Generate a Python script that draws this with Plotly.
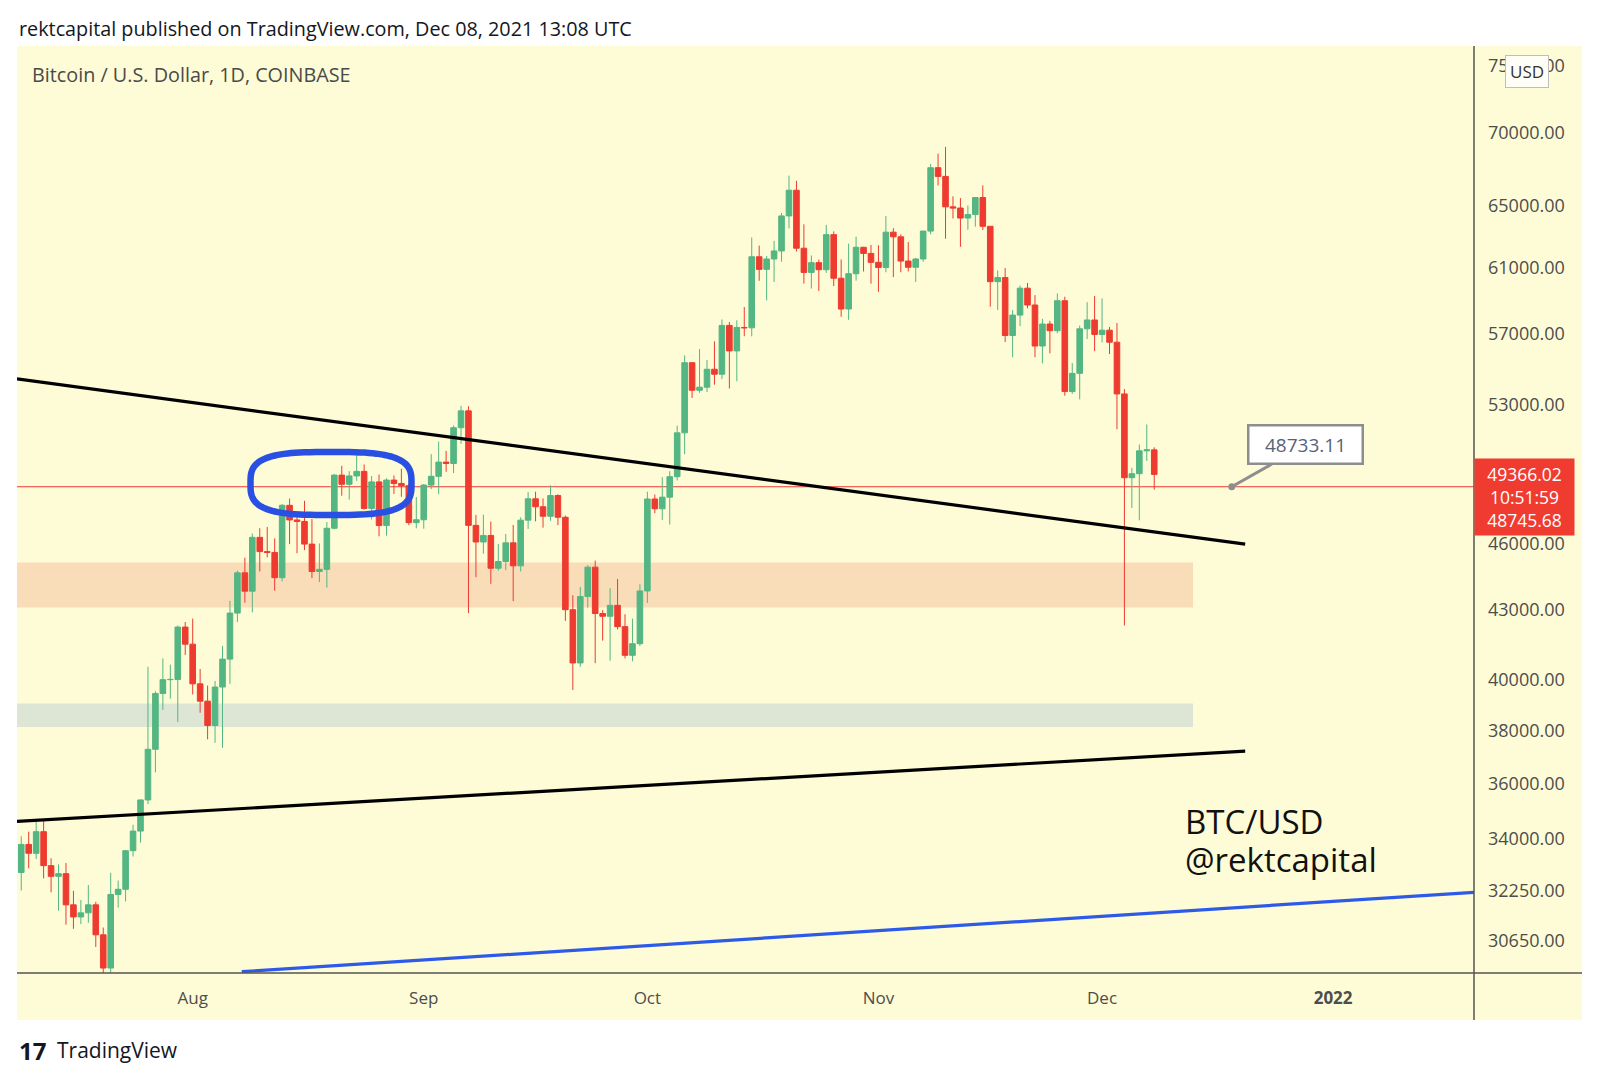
import numpy as np
import pandas as pd
import plotly.graph_objects as go

# daily candles, COINBASE BTC/USD, 9 Jul 2021 - 8 Dec 2021
dates = pd.date_range("2021-07-09", "2021-12-08", freq="D")

open_jul = [32860, 33815, 33510, 34260, 33090, 32730, 32820, 31790, 31400, 31530, 31790, 30830, 29800, 32130, 32300, 33600, 34280, 35390, 37270, 39460, 40020, 40030, 42230]
high_jul = [34100, 34260, 34600, 34680, 33340, 33130, 33180, 32250, 31950, 32440, 31890, 31060, 32850, 32590, 33620, 34500, 35400, 40550, 39550, 40900, 40640, 42300, 42450]
low_jul = [32260, 33000, 33320, 32660, 32200, 31600, 31150, 31020, 31170, 31210, 30450, 29300, 29500, 31700, 31900, 33400, 33880, 35240, 36400, 38800, 39250, 38330, 41040]
close_jul = [33815, 33510, 34260, 33090, 32730, 32820, 31790, 31400, 31530, 31790, 30830, 29800, 32130, 32300, 33600, 34280, 35390, 37270, 39460, 40020, 40030, 42230, 41500]

open_aug = [41500, 39850, 39150, 38190, 39720, 40870, 42840, 44640, 43810, 46290, 45620, 45580, 44420, 47830, 47120, 47050, 45970, 44700, 44800, 46720, 49330, 48870, 49290, 49520, 47680, 48990, 46850, 49080, 48910, 48800, 46990]
high_aug = [42600, 40460, 39780, 39970, 41420, 43380, 44740, 45340, 46470, 46720, 46780, 46240, 47900, 48160, 47400, 48050, 47160, 46000, 47020, 49380, 49800, 49530, 50500, 49870, 49280, 49360, 49170, 49310, 49650, 48900, 48240]
low_aug = [39420, 38690, 37650, 37520, 37330, 39850, 42450, 43300, 42870, 44700, 45350, 43830, 44250, 45970, 45540, 45690, 44400, 44220, 43970, 46670, 48300, 48110, 49040, 47620, 47140, 46340, 46370, 48390, 48250, 46870, 46720]
close_aug = [39850, 39150, 38190, 39720, 40870, 42840, 44640, 43810, 46290, 45620, 45580, 44420, 47830, 47120, 47050, 45970, 44700, 44800, 46720, 49330, 48870, 49290, 49520, 47680, 48990, 46850, 49080, 48910, 48800, 46990, 47130]

open_sep = [47130, 48830, 49270, 49990, 49920, 51780, 52680, 46860, 46070, 46380, 44850, 45160, 46030, 44960, 47110, 48150, 47760, 47300, 48310, 47250, 42990, 40710, 43570, 44900, 42820, 42700, 43180, 42250, 41030, 41520]
high_sep = [48880, 50400, 51050, 50570, 51900, 52950, 52930, 47360, 47370, 47040, 45980, 46450, 46880, 47250, 48480, 48500, 48170, 48820, 48370, 47330, 43630, 44000, 44990, 45200, 42970, 43940, 44360, 42790, 42600, 44120]
low_sep = [46700, 48630, 48380, 49500, 49440, 50940, 42840, 44440, 45520, 44140, 44740, 44760, 43370, 44700, 46690, 47050, 46750, 47080, 46870, 42500, 39600, 40550, 43080, 40700, 41650, 40800, 42130, 40900, 40780, 41420]
close_sep = [48830, 49270, 49990, 49920, 51780, 52680, 46860, 46070, 46380, 44850, 45160, 46030, 44960, 47110, 48150, 47760, 47300, 48310, 47250, 42990, 40710, 43570, 44900, 42820, 42700, 43180, 42250, 41030, 41520, 43820]

open_oct = [43820, 48140, 47660, 48230, 49250, 51510, 55340, 53800, 53970, 54970, 54690, 57490, 56010, 57370, 57350, 61670, 60880, 61530, 62040, 64300, 66010, 62210, 60690, 61300, 60860, 63080, 60330, 58460, 60610, 62270, 61880]
high_oct = [48500, 48360, 49230, 49530, 51890, 55750, 55340, 56120, 55500, 56560, 57840, 57690, 57790, 58580, 62900, 62380, 61720, 62680, 64490, 67000, 66650, 63750, 61750, 61490, 63710, 63290, 61500, 62500, 62950, 62300, 62420]
low_oct = [43290, 47440, 47120, 46900, 49060, 50400, 53380, 53660, 53700, 54110, 54420, 53900, 54300, 56860, 56850, 60170, 58980, 60100, 61360, 63490, 62000, 60000, 59700, 59550, 60660, 59850, 58000, 57820, 60180, 60750, 60000]
close_oct = [48140, 47660, 48230, 49250, 51510, 55340, 53800, 53970, 54970, 54690, 57490, 56010, 57370, 57350, 61670, 60880, 61530, 62040, 64300, 66010, 62210, 60690, 61300, 60860, 63080, 60330, 58460, 60610, 62270, 61880, 61320]

open_nov = [61320, 61000, 63240, 62940, 61400, 61010, 61530, 63310, 67550, 66950, 64900, 64820, 64160, 64390, 65520, 63620, 60120, 60370, 56900, 58100, 59720, 58700, 56290, 57570, 57180, 58960, 53730, 54740, 57290, 57810]
high_nov = [62400, 64300, 63500, 63100, 62600, 61600, 63300, 67800, 68530, 69000, 65600, 65480, 64990, 65550, 66340, 63620, 60810, 60960, 58400, 59880, 60040, 59300, 57880, 57760, 59400, 59200, 55320, 57480, 58870, 59240]
low_nov = [59500, 60700, 60400, 60700, 60750, 60100, 61350, 63100, 66330, 62820, 64130, 62300, 63400, 63600, 63380, 58600, 58400, 56520, 55650, 57450, 58500, 55650, 55300, 55870, 57030, 53500, 53600, 53300, 56700, 56000]
close_nov = [61000, 63240, 62940, 61400, 61010, 61530, 63310, 67550, 66950, 64900, 64820, 64160, 64390, 65520, 63620, 60120, 60370, 56900, 58100, 59720, 58700, 56290, 57570, 57180, 58960, 53730, 54740, 57290, 57810, 56960]

open_dec = [56960, 57210, 56510, 53600, 49200, 49400, 50570, 50620]
high_dec = [59100, 57400, 57630, 53870, 49700, 50900, 51950, 50750]
low_dec = [56500, 55830, 51700, 42300, 47700, 47100, 50050, 48600]
close_dec = [57210, 56510, 53600, 49200, 49400, 50570, 50620, 49366.02]

opens = open_jul + open_aug + open_sep + open_oct + open_nov + open_dec
highs = high_jul + high_aug + high_sep + high_oct + high_nov + high_dec
lows = low_jul + low_aug + low_sep + low_oct + low_nov + low_dec
closes = close_jul + close_aug + close_sep + close_oct + close_nov + close_dec

price_ticks = [30650, 32250, 34000, 36000, 38000, 40000, 43000, 46000, 53000, 57000, 61000, 65000, 70000, 75000]
month_ticks = ["2021-08-01", "2021-09-01", "2021-10-01", "2021-11-01", "2021-12-01", "2022-01-01"]
month_labels = ["Aug", "Sep", "Oct", "Nov", "Dec", "<b>2022</b>"]

last_price = 48745.68
callout_price = "48733.11"

# drawn levels / trendlines (date, price)
orange_zone = (43090, 45110)
grey_zone = (38130, 39060)
zone_end = "2021-12-13 04:48"
upper_trend = (["2021-07-08 10:19", "2021-12-20 04:48"], [54430, 45970])
lower_trend = (["2021-07-08 10:19", "2021-12-20 04:48"], [34620, 37200])
blue_trend = (["2021-08-07 14:00", "2022-01-19 21:36"], [29690, 32200])

X_MIN, X_MAX = "2021-07-08 10:19", "2022-01-19 21:36"
Y_RANGE = [np.log10(29650), np.log10(76500)]
BG = "#FEFCD6"
GREEN = "#53B683"
RED = "#EE3B30"
FONT = "Open Sans"

# pixel helpers for the plot box (left 17, right 1474, top 46, bottom 973)
def px(x):
    return (x - 17) / 1457

def py(y):
    return (973 - y) / 927

fig = go.Figure()

# zones and last-price line on the base axes (drawn under the candles)
for lo, hi, col in [(orange_zone[0], orange_zone[1], "#F9DCB8"), (grey_zone[0], grey_zone[1], "#DDE5D5")]:
    fig.add_trace(go.Scatter(
        x=[X_MIN, zone_end, zone_end, X_MIN, X_MIN],
        y=[lo, lo, hi, hi, lo],
        fill="toself", fillcolor=col, mode="lines", line=dict(width=0),
        hoverinfo="skip"))

fig.add_trace(go.Scatter(x=[X_MIN, X_MAX], y=[last_price, last_price], mode="lines",
                         line=dict(color="#EF3A33", width=1.2), hoverinfo="skip"))

# candles + drawings on an overlaid copy of the price axis
fig.add_trace(go.Candlestick(
    x=dates, open=opens, high=highs, low=lows, close=closes,
    increasing=dict(line=dict(color=GREEN, width=1), fillcolor=GREEN),
    decreasing=dict(line=dict(color=RED, width=1), fillcolor=RED),
    whiskerwidth=0, name="BTCUSD", yaxis="y2"))

for (xs, ys), col in [(upper_trend, "#000000"), (lower_trend, "#000000"), (blue_trend, "#2D5BE8")]:
    fig.add_trace(go.Scatter(x=xs, y=ys, mode="lines", line=dict(color=col, width=3.2),
                             hoverinfo="skip", yaxis="y2"))

fig.add_trace(go.Scatter(x=["2021-12-18 09:36"], y=[last_price], mode="markers",
                         marker=dict(color="#8E8E8E", size=7), hoverinfo="skip", yaxis="y2"))

# hand drawn blue loop
t = np.linspace(0, 2 * np.pi, 120)
n = 3.2
cx, cy, rx, ry = 331, 483.5, 80.5, 31.5
ex = cx + rx * np.sign(np.cos(t)) * np.abs(np.cos(t)) ** (2 / n)
ey = cy + ry * np.sign(np.sin(t)) * np.abs(np.sin(t)) ** (2 / n)
loop = "M " + " L ".join(f"{px(a):.5f},{py(b):.5f}" for a, b in zip(ex, ey)) + " Z"

shapes = [
    dict(type="rect", xref="paper", yref="paper", x0=0, x1=px(1582), y0=py(1020), y1=1,
         fillcolor=BG, line=dict(width=0), layer="below"),
    dict(type="line", xref="paper", yref="paper", x0=1, x1=1, y0=py(1020), y1=1,
         line=dict(color="#555555", width=1.5)),
    dict(type="line", xref="paper", yref="paper", x0=0, x1=px(1582), y0=0, y1=0,
         line=dict(color="#555555", width=1.5)),
    dict(type="path", xref="paper", yref="paper", path=loop,
         line=dict(color="#2950E2", width=6.5)),
]

annotations = [
    dict(xref="paper", yref="paper", x=0, y=py(28), xanchor="left", yanchor="middle",
         text="rektcapital published on TradingView.com, Dec 08, 2021 13:08 UTC",
         showarrow=False, font=dict(size=19.8, color="#131722")),
    dict(xref="paper", yref="paper", x=px(30), y=py(74), xanchor="left", yanchor="middle",
         text="Bitcoin / U.S. Dollar, 1D, COINBASE", showarrow=False,
         font=dict(size=19.8, color="#4A4A4A")),
    dict(xref="paper", yref="paper", x=px(1183), y=py(821), xanchor="left", yanchor="middle",
         text="BTC/USD", showarrow=False, height=28, font=dict(size=33, color="#111111")),
    dict(xref="paper", yref="paper", x=px(1183), y=py(859), xanchor="left", yanchor="middle",
         text="@rektcapital", showarrow=False, font=dict(size=33, color="#111111")),
    dict(xref="paper", yref="paper", x=0, y=py(1050), xanchor="left", yanchor="middle",
         text="<b>17</b>", showarrow=False, font=dict(size=24, color="#131722")),
    dict(xref="paper", yref="paper", x=px(55), y=py(1050), xanchor="left", yanchor="middle",
         text="TradingView", showarrow=False, font=dict(size=21, color="#131722")),
    dict(xref="paper", yref="paper", x=1, y=py(497), xanchor="left", yanchor="middle",
         text="49366.02<br>10:51:59<br>48745.68", showarrow=False, align="center",
         bgcolor="#F03B30", width=93, borderpad=3, font=dict(size=17.5, color="white")),
    dict(xref="paper", yref="paper", x=px(1527), y=py(71), xanchor="center", yanchor="middle",
         text="USD", showarrow=False, bgcolor="#FEFEF6", bordercolor="#BDBDBD", borderwidth=1,
         borderpad=4, font=dict(size=17, color="#333333")),
    dict(x="2021-12-18 09:36", y=np.log10(last_price), xref="x", yref="y",
         text=callout_price, showarrow=True, ax=74, ay=-42, arrowhead=0, arrowwidth=3,
         arrowcolor="#8E8E8E", bgcolor="white", bordercolor="#8E8E8E", borderwidth=2.5,
         borderpad=5, width=102, font=dict(size=19, color="#56627A")),
]

fig.update_layout(
    width=1599, height=1080,
    margin=dict(l=17, r=125, t=46, b=107),
    paper_bgcolor="white", plot_bgcolor=BG,
    showlegend=False, hovermode=False,
    boxgap=0.25, boxgroupgap=0,
    font=dict(family=FONT, color="#4D4D4D"),
    xaxis=dict(type="date", range=[X_MIN, X_MAX], rangeslider=dict(visible=False),
               showgrid=False, zeroline=False, showline=False, ticks="",
               tickvals=month_ticks, ticktext=month_labels,
               tickfont=dict(size=17, color="#4D4D4D"), ticklabelstandoff=13),
    yaxis=dict(type="log", range=Y_RANGE, side="right",
               showgrid=False, zeroline=False, showline=False, ticks="",
               tickvals=price_ticks, ticktext=[f"{v:.2f}" for v in price_ticks],
               tickfont=dict(size=18, color="#4D4D4D"), ticklabelstandoff=13),
    yaxis2=dict(type="log", range=Y_RANGE, overlaying="y", side="right", visible=False),
    shapes=shapes, annotations=annotations,
)

fig.write_html("out.html", config={"displayModeBar": False},
               post_script="document.body.style.margin='0px';")
